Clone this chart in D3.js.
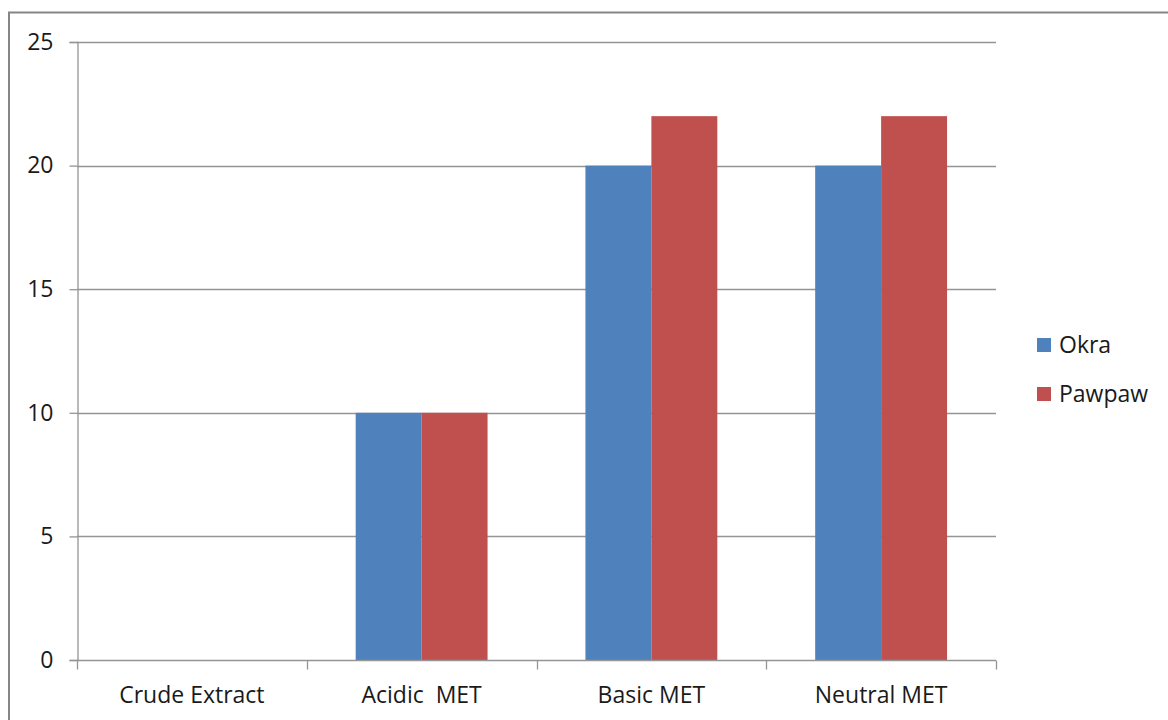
<!DOCTYPE html>
<html>
<head>
<meta charset="utf-8">
<script src="https://cdn.jsdelivr.net/npm/d3@7"></script>
<style>
  html, body { margin: 0; padding: 0; background: #fff; }
  svg { display: block; }
  text { font-family: "Open Sans", "Noto Sans", sans-serif; fill: #1a1a1a; }
</style>
</head>
<body>
<svg id="chart" width="1168" height="720"></svg>
<script>
// Category labels along the x axis
const categories = ["Crude Extract", "Acidic  MET", "Basic MET", "Neutral MET"];
// Series names and their values per category
const seriesNames = ["Okra", "Pawpaw"];
const okraValues = [0, 10, 20, 20];
const pawpawValues = [0, 10, 22, 22];
// Y axis ticks
const yTicks = [0, 5, 10, 15, 20, 25];
const seriesColors = ["#4F81BD", "#C0504D"];

const svg = d3.select("#chart");
const plot = { left: 77, right: 996, top: 42, bottom: 660 };

// Outer chart frame
svg.append("rect")
  .attr("x", 9).attr("y", 12.5)
  .attr("width", 1200).attr("height", 800)
  .attr("fill", "none").attr("stroke", "#868686").attr("stroke-width", 2);

const y = d3.scaleLinear().domain([0, 25]).range([plot.bottom, plot.top]);
const x0 = d3.scaleBand().domain(categories).range([plot.left, plot.right]).padding(0);
const gap = x0.bandwidth() * 0.213;
const x1 = d3.scaleBand().domain(seriesNames).range([gap, x0.bandwidth() - gap]).padding(0);

// Horizontal gridlines
svg.append("g")
  .selectAll("line")
  .data(yTicks.filter(d => d > 0))
  .join("line")
  .attr("x1", plot.left).attr("x2", plot.right)
  .attr("y1", d => Math.round(y(d)) + 0.5).attr("y2", d => Math.round(y(d)) + 0.5)
  .attr("stroke", "#959595").attr("stroke-width", 1.3);

// Bars
const rows = categories.map((c, i) => ({ cat: c, vals: [okraValues[i], pawpawValues[i]] }));
svg.append("g")
  .selectAll("g")
  .data(rows)
  .join("g")
  .attr("transform", d => `translate(${x0(d.cat)},0)`)
  .selectAll("rect")
  .data(d => d.vals.map((v, j) => ({ key: seriesNames[j], v, j })))
  .join("rect")
  .attr("x", d => x1(d.key))
  .attr("width", x1.bandwidth())
  .attr("y", d => y(d.v))
  .attr("height", d => y(0) - y(d.v))
  .attr("fill", d => seriesColors[d.j]);

// Y axis
const yAxis = d3.axisLeft(y).tickValues(yTicks).tickSize(8).tickPadding(16);
const yg = svg.append("g").attr("transform", `translate(${plot.left + 0.5},0)`).call(yAxis);
yg.select(".domain").attr("stroke", "#959595").attr("stroke-width", 1.3);
yg.selectAll(".tick line").attr("stroke", "#959595").attr("stroke-width", 1.3);
yg.selectAll(".tick text").style("font-size", "23px").attr("fill", "#1a1a1a");

// X axis with ticks at category boundaries
const xg = svg.append("g").attr("transform", `translate(0,${plot.bottom + 0.5})`);
xg.append("line")
  .attr("x1", plot.left).attr("x2", plot.right)
  .attr("stroke", "#959595").attr("stroke-width", 1.3);
const bounds = categories.map(c => x0(c)).concat([plot.right]);
xg.selectAll("line.tk")
  .data(bounds)
  .join("line")
  .attr("class", "tk")
  .attr("x1", d => Math.round(d) + 0.5).attr("x2", d => Math.round(d) + 0.5)
  .attr("y1", 0).attr("y2", 9)
  .attr("stroke", "#959595").attr("stroke-width", 1.3);
xg.selectAll("text")
  .data(categories)
  .join("text")
  .attr("x", d => x0(d) + x0.bandwidth() / 2)
  .attr("y", 42.5)
  .attr("text-anchor", "middle")
  .style("font-size", "23px")
  .style("white-space", "pre")
  .text(d => d);

// Legend
const legend = svg.append("g").attr("transform", "translate(1037,338)");
const li = legend.selectAll("g")
  .data(seriesNames)
  .join("g")
  .attr("transform", (d, i) => `translate(0,${i * 49})`);
li.append("rect").attr("width", 14).attr("height", 14)
  .attr("fill", (d, i) => seriesColors[i]);
li.append("text").attr("x", 22).attr("y", 15)
  .style("font-size", "23px")
  .text(d => d);
</script>
</body>
</html>
